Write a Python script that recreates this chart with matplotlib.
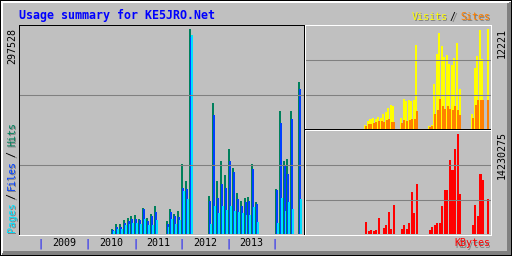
import matplotlib
matplotlib.use("Agg")
import matplotlib.pyplot as plt
from matplotlib.patches import Rectangle, Polygon

W, H = 512, 256

# months that have data (year-month)
months = ["2010-07", "2010-08", "2010-09", "2010-10", "2010-11", "2010-12",
          "2011-01", "2011-02", "2011-03", "2011-04", "2011-05", "2011-06",
          "2011-09", "2011-10", "2011-11", "2011-12", "2012-01", "2012-02", "2012-03",
          "2012-08", "2012-09", "2012-10", "2012-11", "2012-12", "2013-01", "2013-02",
          "2013-03", "2013-04", "2013-05", "2013-06", "2013-07", "2013-08",
          "2014-01", "2014-02", "2014-03", "2014-04", "2014-05", "2014-07"]

hits = [7300, 14500, 14500, 20300, 23200, 26100, 27600, 21800, 37700, 23200, 29000, 40600,
        18900, 36300, 29000, 33400, 101600, 76900, 297528,
        55200, 190100, 76900, 105900, 85600, 123400, 95800, 59500, 47900, 52200, 53700, 101600, 46400,
        65300, 178500, 105900, 108900, 178500, 220600]
files = [5800, 10200, 10200, 16000, 18900, 21800, 21800, 20300, 36300, 18900, 26100, 31900,
         14500, 31900, 26100, 24700, 66800, 65300, 285900,
         47900, 172700, 52200, 72600, 66800, 105900, 90000, 50800, 40600, 46400, 47900, 94300, 43500,
         63900, 161100, 98700, 87100, 166900, 210400]
pages = [4400, 7300, 7300, 13100, 14500, 16000, 16000, 14500, 21800, 13100, 13100, 20300,
         10200, 21800, 14500, 20300, 62400, 50800, 288800,
         14500, 40600, 30500, 40600, 34800, 40600, 33400, 31900, 30500, 27600, 27600, 39200, 17400,
         16000, 52200, 33400, 46400, 36300, 50800]
visits = [490, 980, 1220, 1340, 1220, 1470, 1340, 1830, 2080, 2570, 2930, 2810,
          1340, 3670, 3420, 3540, 3420, 3540, 10270,
          370, 490, 5500, 9170, 11730, 10140, 8800, 9040, 7940, 7820, 8680, 10510, 4890,
          1830, 7450, 8920, 12100, 8550, 12221]
sites = [370, 610, 610, 730, 860, 980, 980, 860, 1100, 1220, 860, 860,
         730, 1100, 980, 1100, 1220, 1220, 2200,
         240, 370, 1830, 2320, 3670, 2810, 2440, 2810, 2440, 2320, 2810, 2320, 1710,
         1340, 2930, 3540, 3540, 3540, 3540]
kbytes = [1707600, 426900, 569200, 426900, 569200, 2276800, 0, 853800, 1280700, 3130700, 711500, 4126800,
          711500, 1280700, 711500, 1565300, 5976700, 2988400, 7115100,
          569200, 996100, 1280700, 1565300, 1565300, 3984500, 6261300, 6261300, 10530400, 9107400,
          12095700, 14230275, 5692100,
          1280700, 4126800, 2561500, 8538200, 7684300, 4980600]

years = ["2009", "2010", "2011", "2012", "2013"]

max_hits = 297528
max_visits = 12221
max_kbytes = 14230275

c_hits, c_files, c_pages = "#00805c", "#0040ff", "#00e0ff"
c_visits, c_sites, c_kbytes = "#ffff00", "#ff8000", "#ff0000"
bg = "#c0c0c0"
grid = "#808080"

# month number counted from Jan 2009
idx = [(int(m[:4]) - 2009) * 12 + int(m[5:]) - 1 for m in months]
XL = (-5.13, 67.95)

fig = plt.figure(figsize=(W / 100, H / 100), dpi=100)
fig.patch.set_facecolor(bg)


def px_axes(x0, y0, x1, y1):
    a = fig.add_axes([x0 / W, 1 - y1 / H, (x1 - x0) / W, (y1 - y0) / H])
    a.set_facecolor("none")
    a.set_axis_off()
    a.set_xlim(*XL)
    return a


def hline(a, y, x0, x1, c):
    a.add_patch(Rectangle((x0, y), x1 - x0, 1, color=c, lw=0, antialiased=False))


def vline(a, x, y0, y1, c):
    a.add_patch(Rectangle((x, y0), 1, y1 - y0, color=c, lw=0, antialiased=False))


# background bevel
back = fig.add_axes([0, 0, 1, 1])
back.set_xlim(0, W)
back.set_ylim(H, 0)
back.set_axis_off()
back.add_patch(Polygon([(0, 0), (W, 0), (W, H), (0, H)], closed=True, color="black", lw=0))
back.add_patch(Polygon([(1, 1), (W - 1, 1), (W - 1, H - 1), (1, H - 1)], closed=True,
                       color=grid, lw=0, antialiased=False))
back.add_patch(Polygon([(1, 1), (W - 1, 1), (W - 5, 3), (3, 3), (3, H - 5), (1, H - 1)],
                       closed=True, color="white", lw=0, antialiased=False))
back.add_patch(Rectangle((3, 3), W - 8, H - 8, color=bg, lw=0, antialiased=False))

# main panel: hits / files / pages
ax = px_axes(20, 26, 305, 234)
ax.set_ylim(0, max_hits * 208 / 205)
for k in (1, 2):
    ax.axhline(ax.get_ylim()[1] * k / 3, color=grid, lw=0.75)
ax.bar([i + 0.2 for i in idx], hits, width=0.5, align="edge", color=c_hits, lw=0)
ax.bar([i + 0.45 for i in idx], files, width=0.5, align="edge", color=c_files, lw=0)
ax.bar([i + 0.7 for i in idx], pages, width=0.5, align="edge", color=c_pages, lw=0)

# top right: visits / sites
axv = px_axes(305, 26, 491, 129)
axv.set_ylim(0, max_visits * 103 / 100)
for k in (1, 2):
    axv.axhline(axv.get_ylim()[1] * k / 3, color=grid, lw=0.75)
axv.bar([i + 0.2 for i in idx], visits, width=0.8, align="edge", color=c_visits, lw=0)
axv.bar([i + 0.55 for i in idx], sites, width=0.8, align="edge", color=c_sites, lw=0)

# bottom right: kbytes
axk = px_axes(305, 131, 491, 234)
axk.set_ylim(0, max_kbytes * 103 / 100)
for k in (1, 2):
    axk.axhline(axk.get_ylim()[1] * k / 3, color=grid, lw=0.75)
axk.bar([i + 0.43 for i in idx], kbytes, width=0.8, align="edge", color=c_kbytes, lw=0)

# frames and text
top = fig.add_axes([0, 0, 1, 1])
top.set_facecolor("none")
top.set_xlim(0, W)
top.set_ylim(H, 0)
top.set_axis_off()

hline(top, 25, 19, 305, "black")
vline(top, 19, 25, 236, "black")
hline(top, 235, 19, 492, "white")
vline(top, 304, 25, 235, "black")
vline(top, 305, 25, 235, "white")
hline(top, 25, 305, 492, "white")
vline(top, 491, 25, 236, "white")
hline(top, 129, 305, 491, "black")
hline(top, 130, 305, 491, "white")

mono = "DejaVu Sans Mono"
fs = 7.2


def shadow_text(x, y, s, c, **kw):
    top.text(x + 1, y + 1, s, color=grid, family=mono, fontsize=fs, **kw)
    top.text(x, y, s, color=c, family=mono, fontsize=fs, **kw)


top.text(19, 15, "Usage summary for KE5JRO.Net", color="#0000ff", family=mono,
         fontsize=8.4, fontweight="bold", ha="left", va="center")

# left legend, reading upward
up = dict(rotation=90, rotation_mode="anchor", ha="left", va="center")
shadow_text(12, 232, "Pages", c_pages, **up)
shadow_text(12, 199, "/", "black", **up)
shadow_text(12, 190, "Files", c_files, **up)
shadow_text(12, 157, "/", "black", **up)
shadow_text(12, 146, "Hits", c_hits, **up)

shadow_text(412, 17, "Visits", c_visits, ha="left", va="center")
shadow_text(450, 17, "/", "black", ha="left", va="center")
shadow_text(460, 17, "Sites", c_sites, ha="left", va="center")
shadow_text(490, 243.5, "KBytes", c_kbytes, ha="right", va="center")

down = dict(rotation=90, rotation_mode="anchor", ha="right", va="center", color="black",
            family=mono, fontsize=fs)
top.text(12.5, 28, str(max_hits), **down)
top.text(502, 28, str(max_visits), **down)
top.text(502, 131, str(max_kbytes), **down)

tick_x = [40.5, 87.5, 135, 181.5, 228, 274.5]
for tx in tick_x:
    top.text(tx, 243.5, "|", color="#0000ff", family=mono, fontsize=fs, ha="center", va="center")
for k, yr in enumerate(years):
    top.text((tick_x[k] + tick_x[k + 1]) / 2, 243.5, yr, color="black", family=mono,
             fontsize=fs, ha="center", va="center")

fig.savefig("out.png", dpi=100, facecolor=bg)
